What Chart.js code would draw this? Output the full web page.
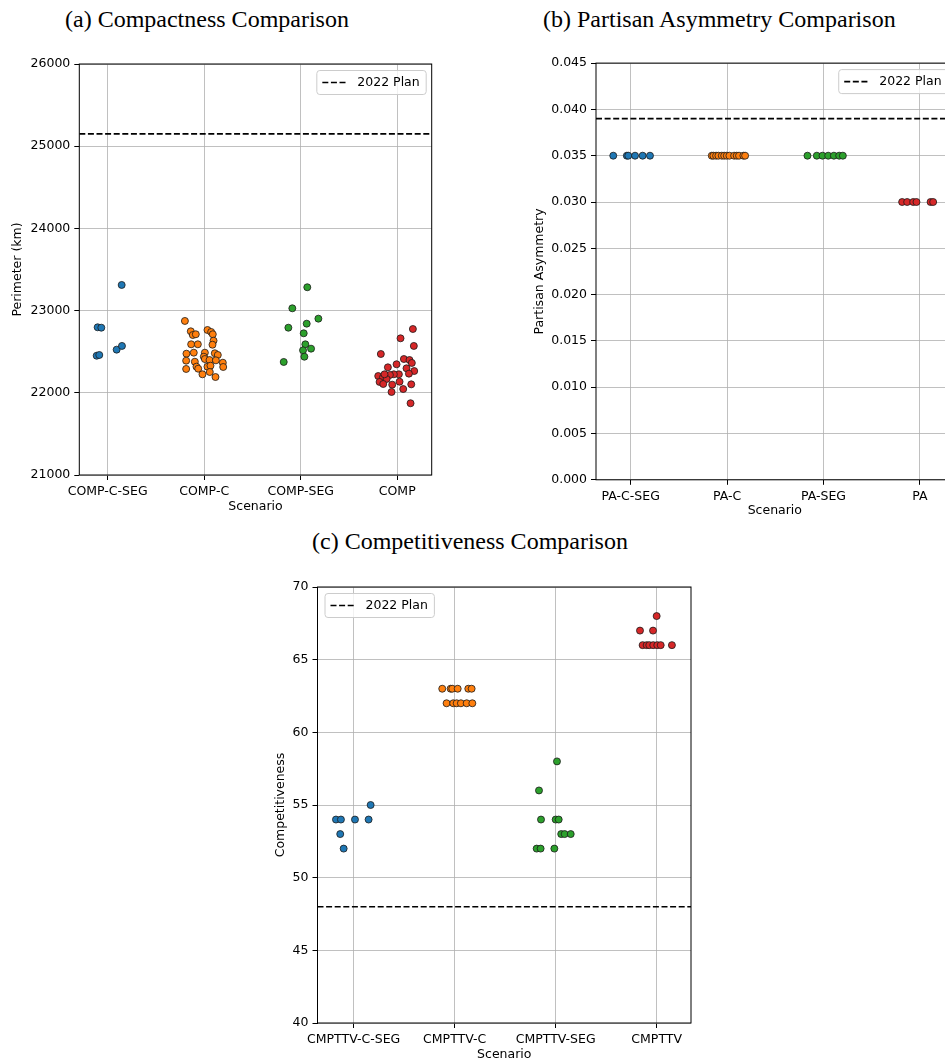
<!DOCTYPE html>
<html><head><meta charset="utf-8">
<script src="https://cdn.jsdelivr.net/npm/chart.js@4.4.1/dist/chart.umd.min.js"></script>
<style>
html,body{margin:0;padding:0;background:#fff;width:945px;height:1064px;overflow:hidden;position:relative}
.t{position:absolute;font-family:"Liberation Serif",serif;font-size:24px;line-height:24px;white-space:nowrap;color:#000}
canvas{position:absolute}
</style></head><body>
<div class="t" style="left:65px;top:7px">(a) Compactness Comparison</div>
<div class="t" style="left:543px;top:7px">(b) Partisan Asymmetry Comparison</div>
<div class="t" style="left:312px;top:529px">(c) Competitiveness Comparison</div>
<canvas id="ca" width="445" height="485" style="left:0;top:40px"></canvas>
<canvas id="cb" width="480" height="485" style="left:500px;top:40px"></canvas>
<canvas id="cc" width="460" height="505" style="left:250px;top:565px"></canvas>
<script>
// ---------- (a) Compactness ----------
const compCategories = ['COMP-C-SEG','COMP-C','COMP-SEG','COMP'];
const compTickLabels = ['21000','22000','23000','24000','25000','26000'];
const compPlan = 25150;
const compCSegJitter = [0.145,-0.104,-0.066,-0.114,-0.087,0.093,0.148];
const compCSegPerim  = [23312,22797,22792,22451,22460,22525,22570];
const compCJitter = [-0.20,-0.139,-0.118,-0.087,0.034,0.072,0.089,0.097,0.086,-0.135,-0.066,-0.184,-0.108,0.007,-0.004,0.11,0.141,-0.187,-0.097,0.007,0.055,0.121,0.193,0.197,-0.187,-0.08,-0.062,0.034,0.065,-0.018,0.058,0.117];
const compCPerim  = [22874,22748,22703,22712,22764,22740,22712,22634,22585,22590,22590,22476,22488,22488,22439,22481,22460,22391,22378,22411,22399,22395,22366,22314,22290,22318,22293,22318,22330,22225,22253,22192];
const compSegJitter = [0.068,-0.087,0.183,0.062,-0.128,0.031,0.048,0.107,0.024,0.038,-0.176];
const compSegPerim  = [23284,23028,22902,22841,22792,22724,22590,22537,22517,22439,22375];
const compJitter = [0.162,0.034,0.172,-0.17,0.069,0.127,0.151,-0.007,-0.097,0.096,0.176,0.121,0.017,-0.035,-0.076,-0.197,-0.149,-0.11,-0.183,-0.145,-0.052,0.024,0.145,0.062,-0.059,0.138,-0.132];
const compPerim  = [22776,22663,22570,22472,22411,22399,22363,22347,22310,22298,22265,22233,22225,22225,22217,22204,22184,22168,22132,22107,22099,22135,22103,22046,22010,21873,22225];

// ---------- (b) Partisan Asymmetry ----------
const paCategories = ['PA-C-SEG','PA-C','PA-SEG','PA'];
const paTickLabels = ['0.000','0.005','0.010','0.015','0.020','0.025','0.030','0.035','0.040','0.045'];
const paPlan = 0.039;
const paCSegJitter = [-0.181,-0.04,-0.025,0.045,0.124,0.2];
const paCSegValue  = [0.035,0.035,0.035,0.035,0.035,0.035];
const paCJitter = [-0.159,-0.142,-0.114,-0.09,-0.055,-0.03,-0.003,0.024,0.073,0.1,0.124,0.169,0.187];
const paCValue  = [0.035,0.035,0.035,0.035,0.035,0.035,0.035,0.035,0.035,0.035,0.035,0.035,0.035];
const paSegJitter = [-0.166,-0.069,-0.01,0.049,0.108,0.163,0.201];
const paSegValue  = [0.035,0.035,0.035,0.035,0.035,0.035,0.035];
const paJitter = [-0.184,-0.132,-0.069,-0.035,0.111,0.138];
const paValue  = [0.030,0.030,0.030,0.030,0.030,0.030];

// ---------- (c) Competitiveness ----------
const cmpCategories = ['CMPTTV-C-SEG','CMPTTV-C','CMPTTV-SEG','CMPTTV'];
const cmpTickLabels = ['40','45','50','55','60','65','70'];
const cmpPlan = 48;
const cmpCSegJitter = [0.168,-0.175,-0.126,0.013,0.148,-0.133,-0.099];
const cmpCSegValue  = [55,54,54,54,54,53,52];
const cmpCJitter = [-0.123,-0.04,-0.024,0.03,0.135,0.168,-0.08,-0.014,0.02,0.062,0.119,0.175];
const cmpCValue  = [63,63,63,63,63,63,62,62,62,62,62,62];
const cmpSegJitter = [0.013,-0.165,-0.145,0,0.03,0.055,0.089,0.149,-0.188,-0.149,-0.013];
const cmpSegValue  = [58,56,54,54,54,53,53,53,52,52,52];
const cmpJitter = [0,-0.165,-0.036,-0.139,-0.099,-0.073,-0.034,0.006,0.04,0.151];
const cmpValue  = [68,67,67,66,66,66,66,66,66,66];

const COLORS = ['#1f77b4','#ff7f0e','#2ca02c','#d62728'];
const FONT = '"DejaVu Sans", sans-serif';
const FS = 12.5;

const framePlugin = {
  id: 'frame',
  afterDatasetsDraw(chart) {
    const {ctx, chartArea: a} = chart;
    ctx.save();
    ctx.strokeStyle = '#000';
    ctx.lineWidth = 1;
    ctx.strokeRect(a.left, a.top, a.right - a.left, a.bottom - a.top);
    ctx.restore();
  }
};
const insideLegend = {
  id: 'insideLegend',
  afterDraw(chart, args, opts) {
    const ds = chart.data.datasets.find(d => d.type === 'line');
    const {ctx, chartArea: a} = chart;
    ctx.save();
    ctx.font = FS + 'px ' + FONT;
    const tw = ctx.measureText(ds.label).width;
    const pad = 0.4 * FS + 1, hl = 2 * FS, gap = 0.8 * FS;
    const w = pad + hl + gap + tw + pad, h = 24;
    const x = opts.align === 'left' ? a.left + 7 : a.right - 6 - w;
    const y = a.top + 6;
    ctx.beginPath();
    if (ctx.roundRect) ctx.roundRect(x + 0.5, y + 0.5, w, h, 3); else ctx.rect(x + 0.5, y + 0.5, w, h);
    ctx.fillStyle = 'rgba(255,255,255,0.8)';
    ctx.fill();
    ctx.strokeStyle = '#cccccc';
    ctx.lineWidth = 1;
    ctx.stroke();
    ctx.beginPath();
    ctx.setLineDash(ds.borderDash);
    ctx.strokeStyle = ds.borderColor;
    ctx.lineWidth = ds.borderWidth;
    ctx.moveTo(x + pad, y + h / 2 + 0.5);
    ctx.lineTo(x + pad + hl, y + h / 2 + 0.5);
    ctx.stroke();
    ctx.setLineDash([]);
    ctx.fillStyle = '#000';
    ctx.textBaseline = 'middle';
    ctx.fillText(ds.label, x + pad + hl + gap, y + h / 2 + 1);
    ctx.restore();
  }
};

function build(id, o) {
  const datasets = o.series.map((s, i) => ({
    type: 'scatter',
    label: o.categories[i],
    data: s.x.map((dx, k) => ({x: i + dx, y: s.y[k]})),
    backgroundColor: COLORS[i],
    borderColor: '#1a1a1a',
    borderWidth: 0.8,
    pointRadius: 3.5,
    order: 1
  }));
  datasets.push({
    type: 'line', label: '2022 Plan',
    data: [{x: o.xMin, y: o.plan}, {x: o.xMax, y: o.plan}],
    borderColor: '#000', borderWidth: 1.6, borderDash: [6, 2.6],
    pointRadius: 0, fill: false, order: 0
  });
  const yVals = o.tickLabels.map(Number);
  const tickFont = {family: FONT, size: FS};
  new Chart(document.getElementById(id), {
    data: {datasets},
    options: {
      responsive: false, animation: false,
      layout: {padding: o.pad},
      plugins: {legend: {display: false}, tooltip: {enabled: false}, insideLegend: {align: o.legendAlign}},
      scales: {
        x: {
          type: 'linear', min: o.xMin, max: o.xMax,
          afterBuildTicks: s => { s.ticks = o.categories.map((c, i) => ({value: i})); },
          afterFit: s => { s.height = o.xH; },
          ticks: {autoSkip: false, maxRotation: 0, padding: 4, color: '#000', font: tickFont,
                  callback: (v, i) => o.categories[i]},
          grid: {color: '#b0b0b0', lineWidth: 0.8, tickColor: '#000', tickLength: 5, tickWidth: 1},
          border: {display: false},
          title: {display: true, text: 'Scenario', color: '#000', font: tickFont, padding: {top: 4, bottom: 4}}
        },
        y: {
          type: 'linear', min: yVals[0], max: yVals[yVals.length - 1],
          afterBuildTicks: s => { s.ticks = yVals.map(v => ({value: v})); },
          afterFit: s => { s.width = o.yW; },
          ticks: {padding: 4, color: '#000', font: tickFont, callback: (v, i) => o.tickLabels[i]},
          grid: {color: '#b0b0b0', lineWidth: 0.8, tickColor: '#000', tickLength: 5, tickWidth: 1},
          border: {display: false},
          title: {display: true, text: o.yLabel, color: '#000', font: tickFont, padding: {top: 4, bottom: 4}}
        }
      }
    },
    plugins: [framePlugin, insideLegend]
  });
}

build('ca', {
  categories: compCategories, tickLabels: compTickLabels, plan: compPlan, yLabel: 'Perimeter (km)',
  series: [{x: compCSegJitter, y: compCSegPerim}, {x: compCJitter, y: compCPerim},
           {x: compSegJitter, y: compSegPerim}, {x: compJitter, y: compPerim}],
  xMin: -0.294, xMax: 3.357, legendAlign: 'right',
  pad: {left: 6.5, top: 24, right: 13.3, bottom: 6.5}, yW: 72.8, xH: 43.5
});
build('cb', {
  categories: paCategories, tickLabels: paTickLabels, plan: paPlan, yLabel: 'Partisan Asymmetry',
  series: [{x: paCSegJitter, y: paCSegValue}, {x: paCJitter, y: paCValue},
           {x: paSegJitter, y: paSegValue}, {x: paJitter, y: paValue}],
  xMin: -0.36, xMax: 3.35, legendAlign: 'right',
  pad: {left: 28.5, top: 23.1, right: 26.4, bottom: 2.5}, yW: 67.5, xH: 42.7
});
build('cc', {
  categories: cmpCategories, tickLabels: cmpTickLabels, plan: cmpPlan, yLabel: 'Competitiveness',
  series: [{x: cmpCSegJitter, y: cmpCSegValue}, {x: cmpCJitter, y: cmpCValue},
           {x: cmpSegJitter, y: cmpSegValue}, {x: cmpJitter, y: cmpValue}],
  xMin: -0.358, xMax: 3.34, legendAlign: 'left',
  pad: {left: 19.5, top: 22, right: 19, bottom: 3.5}, yW: 48, xH: 43.5
});
</script>
</body></html>
